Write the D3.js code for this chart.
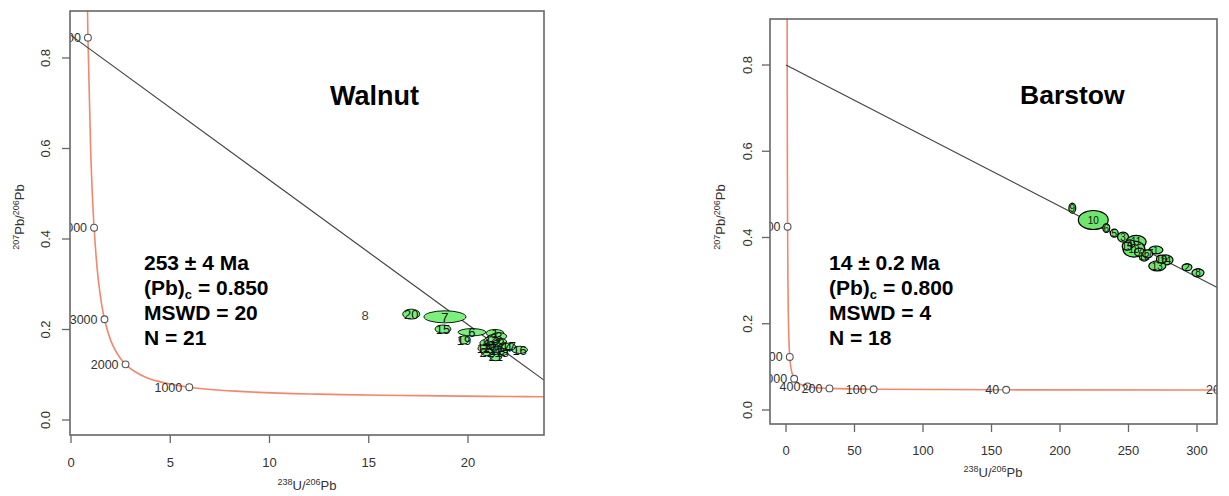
<!DOCTYPE html>
<html><head><meta charset="utf-8">
<script src="https://cdn.jsdelivr.net/npm/d3@7"></script>
<style>
body{margin:0;background:#fff}
svg{display:block}
text{font-family:"Liberation Sans",Arial,Helvetica,sans-serif}
</style>
</head><body>
<svg id="chart" width="1229" height="496"></svg>
<script>
// ---------------- DATA ----------------
// Walnut: analyses (U238/Pb206, Pb207/Pb206), ellipse half-axes in data units
const walnutIds = ["20","7","15","6","19","1","2","3","4","5","9","10","11","12","13","14","16","17","18","21","22"];
const walnutX   = [17.14,18.84,18.74,20.20,19.80,21.36,21.30,21.55,20.90,21.20,21.65,21.10,21.45,20.80,21.20,21.85,22.60,22.05,21.70,21.40,20.95];
const walnutY   = [0.234,0.228,0.201,0.194,0.177,0.192,0.180,0.185,0.170,0.165,0.172,0.160,0.155,0.158,0.175,0.160,0.155,0.162,0.150,0.140,0.150];
const walnutRx  = [0.43,1.06,0.40,0.70,0.25,0.45,0.35,0.40,0.30,0.35,0.30,0.35,0.30,0.30,0.40,0.35,0.40,0.35,0.30,0.30,0.30];
const walnutRy  = [0.011,0.0133,0.009,0.008,0.009,0.008,0.009,0.008,0.008,0.009,0.008,0.008,0.008,0.008,0.009,0.008,0.008,0.008,0.008,0.009,0.008];
const walnutRejectedIds = ["8"];
const walnutRejectedX   = [14.82];
const walnutRejectedY   = [0.232];
// Walnut discordia end points and annotation
const walnutLineX = [0, 24.98];
const walnutLineY = [0.850, 0.0513];
const walnutTitle = "Walnut";
const walnutAge = "253 ± 4 Ma";
const walnutPbc = "0.850";
const walnutMswd = "20";
const walnutN = "21";

// Barstow
const barstowIds = ["9","10","6","5","3","11","18","12","1","14","13","2","8","4","7","15","16","17"];
const barstowX   = [209,224.3,233.8,239.6,246,255.6,254,261.4,270,277,271,292.7,300.7,251,258,249,274,264];
const barstowY   = [0.468,0.4406,0.422,0.410,0.401,0.390,0.373,0.357,0.371,0.348,0.334,0.331,0.318,0.385,0.366,0.380,0.350,0.362];
const barstowRx  = [2.5,10.9,2.5,2.9,4.0,7.3,8.0,3.6,5.1,5.5,6.2,3.6,4.4,3.6,3.6,3.6,3.6,3.6];
const barstowRy  = [0.0116,0.022,0.0104,0.0093,0.0116,0.015,0.0186,0.0116,0.0093,0.0116,0.0116,0.008,0.0093,0.0093,0.0093,0.0093,0.0093,0.0093];
const barstowLineX = [0, 459.9];
const barstowLineY = [0.800, 0.0464];
const barstowTitle = "Barstow";
const barstowAge = "14 ± 0.2 Ma";
const barstowPbc = "0.800";
const barstowMswd = "4";
const barstowN = "18";

// Concordia curve points (age Ma, U238/Pb206, Pb207/Pb206)
const concAges = [5500,5000,4500,4000,3500,3000,2500,2000,1500,1000,700,500,400,300,250,200,100,40,20,10];
const concX    = [0.742,0.853,0.990,1.163,1.387,1.688,2.111,2.749,3.817,5.959,8.718,12.40,15.62,20.99,25.29,31.74,63.97,160.7,321.8,644.0];
const concY    = [1.2065,0.845,0.5967,0.4250,0.3059,0.2226,0.1643,0.1230,0.0936,0.0725,0.0628,0.0572,0.0547,0.0523,0.0512,0.0501,0.0480,0.0468,0.0464,0.0462];
// age ticks labelled on each concordia
const walnutTickAges  = [5000,4000,3000,2000,1000];
const barstowTickAges = [4000,2000,1000,400,200,100,40,20];

// tick labels
const walnutXTicks  = [0,5,10,15,20];
const barstowXTicks = [0,50,100,150,200,250,300];
const yTicks = [0.0,0.2,0.4,0.6,0.8];

// ---------------- DRAW ----------------
const svg = d3.select("#chart");
svg.append("rect").attr("width",1229).attr("height",496).attr("fill","#fff");

function panel(o){
  const g = svg.append("g");
  const x = d3.scaleLinear().domain(o.xCal).range(o.xPx);
  const y = d3.scaleLinear().domain([0,0.8]).range(o.yPx);
  const L = o.box[0], T = o.box[1], R = o.box[2], B = o.box[3];
  const cid = "clip" + o.id;
  svg.append("defs").append("clipPath").attr("id",cid)
    .append("rect").attr("x",L).attr("y",T).attr("width",R-L).attr("height",B-T);
  const pg = g.append("g").attr("clip-path",`url(#${cid})`);

  // concordia
  const pts = concAges.map((a,i)=>[concX[i],concY[i]]);
  pg.append("path").datum(pts)
    .attr("d", d3.line().x(d=>x(d[0])).y(d=>y(d[1])).curve(d3.curveCatmullRom.alpha(0.5)))
    .attr("fill","none").attr("stroke","#f2876c").attr("stroke-width",1.6);

  // discordia
  pg.append("line")
    .attr("x1",x(o.lineX[0])).attr("y1",y(o.lineY[0]))
    .attr("x2",x(o.lineX[1])).attr("y2",y(o.lineY[1]))
    .attr("stroke","#444").attr("stroke-width",1.2);

  // age ticks on concordia
  o.tickAges.forEach(a=>{
    const i = concAges.indexOf(a);
    const px = x(concX[i]), py = y(concY[i]);
    pg.append("text").attr("x",px-7).attr("y",py+4.5).attr("text-anchor","end")
      .attr("font-size",12.5).attr("fill","#333").text(a);
    pg.append("circle").attr("cx",px).attr("cy",py).attr("r",3.4)
      .attr("fill","#fff").attr("stroke","#555").attr("stroke-width",1.1);
  });

  // rejected
  if (o.rejIds) o.rejIds.forEach((id,i)=>{
    pg.append("text").attr("x",x(o.rejX[i])).attr("y",y(o.rejY[i])+4.5)
      .attr("text-anchor","middle").attr("font-size",o.labelSize).attr("fill","#444")
      .attr("stroke","#fff").attr("stroke-width",2).attr("paint-order","stroke").text(id);
  });

  // ellipses
  o.ids.forEach((id,i)=>{
    pg.append("ellipse").attr("cx",x(o.ex[i])).attr("cy",y(o.ey[i]))
      .attr("rx",Math.abs(x(o.erx[i])-x(0))).attr("ry",Math.abs(y(o.ery[i])-y(0)))
      .attr("fill",o.fill).attr("stroke","#000").attr("stroke-width",o.estroke);
  });
  o.ids.forEach((id,i)=>{
    pg.append("text").attr("x",x(o.ex[i])).attr("y",y(o.ey[i])+o.labelSize*0.36)
      .attr("text-anchor","middle").attr("font-size",o.labelSize).attr("fill","#111").text(id);
  });

  // box
  g.append("rect").attr("x",L).attr("y",T).attr("width",R-L).attr("height",B-T)
    .attr("fill","none").attr("stroke","#666").attr("stroke-width",1.6);

  // x axis
  o.xTicks.forEach(t=>{
    g.append("line").attr("x1",x(t)).attr("x2",x(t)).attr("y1",B).attr("y2",B+8)
      .attr("stroke","#666").attr("stroke-width",1.3);
    g.append("text").attr("x",x(t)).attr("y",o.xLabY).attr("text-anchor","middle")
      .attr("font-size",13).attr("fill","#333").text(t);
  });
  // y axis
  yTicks.forEach(t=>{
    g.append("line").attr("x1",L-8).attr("x2",L).attr("y1",y(t)).attr("y2",y(t))
      .attr("stroke","#666").attr("stroke-width",1.3);
    g.append("text").attr("transform",`translate(${o.yLabX},${y(t)}) rotate(-90)`)
      .attr("text-anchor","middle").attr("font-size",13).attr("fill","#333").text(t.toFixed(1));
  });

  // axis titles
  const xt = g.append("text").attr("x",o.xTitle[0]).attr("y",o.xTitle[1])
    .attr("text-anchor","middle").attr("fill","#333").attr("font-size",13);
  xt.append("tspan").attr("font-size",9).attr("dy",-5).text("238");
  xt.append("tspan").attr("dy",5).text("U/");
  xt.append("tspan").attr("font-size",9).attr("dy",-5).text("206");
  xt.append("tspan").attr("dy",5).text("Pb");

  const yt = g.append("text").attr("transform",`translate(${o.yTitle[0]},${o.yTitle[1]}) rotate(-90)`)
    .attr("text-anchor","middle").attr("fill","#333").attr("font-size",13);
  yt.append("tspan").attr("font-size",9).attr("dy",-5).text("207");
  yt.append("tspan").attr("dy",5).text("Pb/");
  yt.append("tspan").attr("font-size",9).attr("dy",-5).text("206");
  yt.append("tspan").attr("dy",5).text("Pb");

  // title
  g.append("text").attr("x",o.titlePos[0]).attr("y",o.titlePos[1])
    .attr("font-size",o.titleSize).attr("font-weight","bold").attr("fill","#000").text(o.title);

  // annotation
  const ax = o.annot[0], ay = o.annot[1];
  const fs = 21;
  const ann = (yy)=>g.append("text").attr("x",ax).attr("y",yy).attr("font-size",fs)
      .attr("font-weight","bold").attr("fill","#000");
  ann(ay).text(o.age);
  const t2 = ann(ay+25);
  t2.append("tspan").text("(Pb)");
  t2.append("tspan").attr("font-size",13).attr("dy",4).text("c");
  t2.append("tspan").attr("dy",-4).text(" = " + o.pbc);
  ann(ay+50).text("MSWD = " + o.mswd);
  ann(ay+75).text("N = " + o.n);
}

panel({
  id:"W", box:[70,11,544,435], xCal:[0,20], xPx:[71,468], yPx:[420,58],
  ids:walnutIds, ex:walnutX, ey:walnutY, erx:walnutRx, ery:walnutRy,
  rejIds:walnutRejectedIds, rejX:walnutRejectedX, rejY:walnutRejectedY,
  lineX:walnutLineX, lineY:walnutLineY, tickAges:walnutTickAges,
  xTicks:walnutXTicks, xLabY:467, yLabX:50, xTitle:[307,490], yTitle:[24,217],
  title:walnutTitle, titlePos:[330,105], titleSize:27, labelSize:13,
  fill:"#7cf07c", estroke:0.9,
  annot:[144,270], age:walnutAge, pbc:walnutPbc, mswd:walnutMswd, n:walnutN
});
panel({
  id:"B", box:[770,19,1217,424], xCal:[0,300], xPx:[786,1197], yPx:[410,65],
  ids:barstowIds, ex:barstowX, ey:barstowY, erx:barstowRx, ery:barstowRy,
  lineX:barstowLineX, lineY:barstowLineY, tickAges:barstowTickAges,
  xTicks:barstowXTicks, xLabY:455, yLabX:752, xTitle:[993,477], yTitle:[725,217],
  title:barstowTitle, titlePos:[1020,104], titleSize:26.5, labelSize:10,
  fill:"#6ee66e", estroke:1.2,
  annot:[829,270], age:barstowAge, pbc:barstowPbc, mswd:barstowMswd, n:barstowN
});
</script>
</body></html>
